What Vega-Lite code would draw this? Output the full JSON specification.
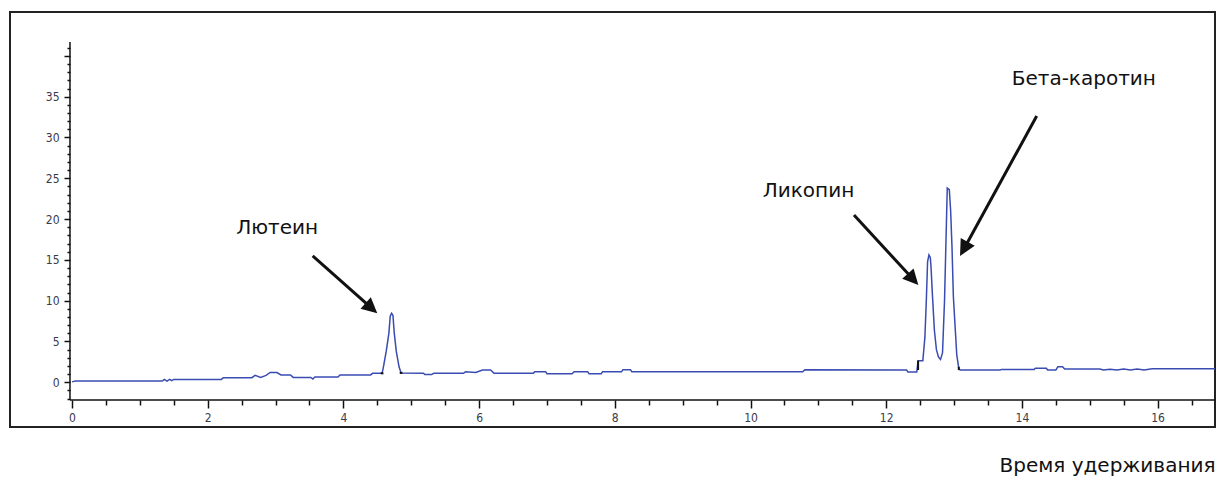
{
  "$schema": "https://vega.github.io/schema/vega-lite/v6.json",
  "width": 1205,
  "height": 415,
  "autosize": {"type": "none"},
  "padding": {"left": 10, "top": 12, "right": 4, "bottom": 53},
  "background": "white",
  "config": {
    "view": {"stroke": "#222222", "strokeWidth": 2},
    "axis": {"grid": false}
  },
  "resolve": {"axis": {"x": "independent", "y": "independent"}},
  "datasets": {
    "trace": [
      {"t": 0, "v": 0.05}, {"t": 0.05, "v": 0.15}, {"t": 1.33, "v": 0.15}, {"t": 1.36, "v": 0.35},
      {"t": 1.40, "v": 0.15}, {"t": 1.44, "v": 0.35}, {"t": 1.47, "v": 0.2}, {"t": 1.5, "v": 0.35},
      {"t": 2.2, "v": 0.35}, {"t": 2.23, "v": 0.57}, {"t": 2.65, "v": 0.57}, {"t": 2.7, "v": 0.85},
      {"t": 2.78, "v": 0.6}, {"t": 2.86, "v": 0.85}, {"t": 2.92, "v": 1.2}, {"t": 3.02, "v": 1.2},
      {"t": 3.08, "v": 0.9}, {"t": 3.22, "v": 0.9}, {"t": 3.26, "v": 0.6}, {"t": 3.52, "v": 0.6},
      {"t": 3.55, "v": 0.4}, {"t": 3.58, "v": 0.65}, {"t": 3.92, "v": 0.65}, {"t": 3.95, "v": 0.9},
      {"t": 4.40, "v": 0.9}, {"t": 4.43, "v": 1.1}, {"t": 4.57, "v": 1.1}, {"t": 4.59, "v": 1.9},
      {"t": 4.63, "v": 3.75}, {"t": 4.67, "v": 6.0}, {"t": 4.69, "v": 8.1}, {"t": 4.71, "v": 8.45},
      {"t": 4.73, "v": 8.2}, {"t": 4.75, "v": 6.0}, {"t": 4.78, "v": 3.75}, {"t": 4.82, "v": 1.9},
      {"t": 4.85, "v": 1.15}, {"t": 5.18, "v": 1.1}, {"t": 5.2, "v": 0.95}, {"t": 5.3, "v": 0.95},
      {"t": 5.33, "v": 1.1}, {"t": 5.77, "v": 1.1}, {"t": 5.8, "v": 1.3}, {"t": 5.95, "v": 1.2},
      {"t": 6.05, "v": 1.5}, {"t": 6.17, "v": 1.5}, {"t": 6.22, "v": 1.1}, {"t": 6.8, "v": 1.1},
      {"t": 6.82, "v": 1.3}, {"t": 6.98, "v": 1.3}, {"t": 7.0, "v": 1.05}, {"t": 7.37, "v": 1.05},
      {"t": 7.4, "v": 1.3}, {"t": 7.6, "v": 1.3}, {"t": 7.62, "v": 1.05}, {"t": 7.8, "v": 1.05},
      {"t": 7.82, "v": 1.3}, {"t": 8.1, "v": 1.3}, {"t": 8.12, "v": 1.55}, {"t": 8.23, "v": 1.55},
      {"t": 8.25, "v": 1.3}, {"t": 10.77, "v": 1.3}, {"t": 10.8, "v": 1.55}, {"t": 12.30, "v": 1.5},
      {"t": 12.32, "v": 1.26}, {"t": 12.45, "v": 1.26}, {"t": 12.47, "v": 2.65}, {"t": 12.54, "v": 2.65},
      {"t": 12.57, "v": 5.5}, {"t": 12.59, "v": 9.7}, {"t": 12.61, "v": 14.8}, {"t": 12.63, "v": 15.6},
      {"t": 12.65, "v": 15.3}, {"t": 12.66, "v": 14.2}, {"t": 12.68, "v": 10.9}, {"t": 12.71, "v": 6.4},
      {"t": 12.74, "v": 4.0}, {"t": 12.77, "v": 3.1}, {"t": 12.80, "v": 2.8}, {"t": 12.83, "v": 3.6},
      {"t": 12.86, "v": 10.1}, {"t": 12.88, "v": 17.0}, {"t": 12.90, "v": 23.8}, {"t": 12.93, "v": 23.6},
      {"t": 12.95, "v": 21.0}, {"t": 12.97, "v": 16.5}, {"t": 12.99, "v": 10.5}, {"t": 13.02, "v": 6.2},
      {"t": 13.04, "v": 3.35}, {"t": 13.07, "v": 1.7}, {"t": 13.09, "v": 1.5}, {"t": 13.68, "v": 1.5},
      {"t": 13.7, "v": 1.58}, {"t": 14.18, "v": 1.58},
      {"t": 14.2, "v": 1.72}, {"t": 14.36, "v": 1.72}, {"t": 14.38, "v": 1.5}, {"t": 14.5, "v": 1.5},
      {"t": 14.53, "v": 1.9}, {"t": 14.6, "v": 1.9}, {"t": 14.63, "v": 1.63}, {"t": 15.15, "v": 1.63},
      {"t": 15.2, "v": 1.5}, {"t": 15.3, "v": 1.6}, {"t": 15.4, "v": 1.5}, {"t": 15.5, "v": 1.62},
      {"t": 15.6, "v": 1.5}, {"t": 15.7, "v": 1.62}, {"t": 15.8, "v": 1.5}, {"t": 15.92, "v": 1.67},
      {"t": 16.846, "v": 1.67}
    ],
    "marks": [
      {"seg": "a", "t": 4.55, "v": 1.1}, {"seg": "a", "t": 4.59, "v": 1.1},
      {"seg": "b", "t": 4.83, "v": 1.15}, {"seg": "b", "t": 4.87, "v": 1.15},
      {"seg": "c", "t": 12.47, "v": 1.5}, {"seg": "c", "t": 12.47, "v": 2.65},
      {"seg": "d", "t": 13.07, "v": 1.5}, {"seg": "d", "t": 13.07, "v": 1.9}
    ],
    "labels": [
      {"label": "Лютеин", "t": 2.42, "v": 18.14},
      {"label": "Ликопин", "t": 10.18, "v": 22.67},
      {"label": "Бета-каротин", "t": 13.85, "v": 36.43}
    ],
    "arrows": [
      {"name": "lutein", "t1": 3.547, "v1": 15.48, "t2": 4.411, "v2": 9.11, "tt": 4.499, "vt": 8.46},
      {"name": "lycopene", "t1": 11.525, "v1": 20.50, "t2": 12.394, "v2": 12.65, "tt": 12.474, "vt": 11.92},
      {"name": "beta", "t1": 14.218, "v1": 32.63, "t2": 13.145, "v2": 16.34, "tt": 13.088, "vt": 15.48}
    ]
  },
  "layer": [
    {
      "data": {"name": "trace"},
      "mark": {"type": "line", "color": "#3a4cb2", "strokeWidth": 1.5, "clip": true},
      "encoding": {
        "x": {
          "field": "t", "type": "quantitative",
          "scale": {"domain": [-0.914, 16.846], "nice": false, "zero": false},
          "axis": {
            "orient": "bottom", "offset": -27, "domain": false, "grid": false,
            "values": [0, 2, 4, 6, 8, 10, 12, 14, 16],
            "tickSize": 8, "tickColor": "#111111", "tickWidth": 1.5,
            "labelOverlap": false, "labelBound": false,
            "labelFont": "Liberation Sans Narrow, Arial Narrow, DejaVu Sans Condensed, sans-serif",
            "labelFontSize": 12, "labelColor": "#3a3a4a", "labelPadding": 4,
            "title": "Время удерживания",
            "titleFont": "DejaVu Sans", "titleFontSize": 20, "titleFontWeight": "normal",
            "titleColor": "#111111", "titleAnchor": "end", "titleAlign": "right",
            "titleBaseline": "alphabetic", "titleX": 1205, "titleY": 71
          }
        },
        "y": {
          "field": "v", "type": "quantitative",
          "scale": {"domain": [-5.48, 45.38], "nice": false, "zero": false},
          "axis": {
            "orient": "left", "offset": -60, "domain": false, "grid": false,
            "values": [0, 5, 10, 15, 20, 25, 30, 35, 40],
            "tickSize": 6, "tickColor": "#111111", "tickWidth": 1.5,
            "labelExpr": "datum.value <= 35 ? datum.label : ''",
            "labelOverlap": false, "labelBound": false,
            "labelFont": "Liberation Sans Narrow, Arial Narrow, DejaVu Sans Condensed, sans-serif",
            "labelFontSize": 12, "labelColor": "#3a3a4a", "labelPadding": 5,
            "title": null
          }
        }
      }
    },
    {
      "data": {"name": "marks"},
      "mark": {"type": "line", "color": "#111111", "strokeWidth": 2},
      "encoding": {
        "x": {
          "field": "t", "type": "quantitative",
          "axis": {
            "orient": "bottom", "offset": -27, "domain": false, "grid": false,
            "values": [0.5, 1, 1.5, 2.5, 3, 3.5, 4.5, 5, 5.5, 6.5, 7, 7.5, 8.5, 9, 9.5, 10.5, 11, 11.5, 12.5, 13, 13.5, 14.5, 15, 15.5, 16.5],
            "tickSize": 5, "tickColor": "#111111", "tickWidth": 1.5,
            "labels": false, "title": null
          }
        },
        "y": {
          "field": "v", "type": "quantitative",
          "axis": {
            "orient": "left", "offset": -60, "domain": false, "grid": false,
            "values": [-2, -1, 1, 2, 3, 4, 6, 7, 8, 9, 11, 12, 13, 14, 16, 17, 18, 19, 21, 22, 23, 24, 26, 27, 28, 29, 31, 32, 33, 34, 36, 37, 38, 39, 41],
            "tickSize": 3, "tickColor": "#111111", "tickWidth": 1.5,
            "labels": false, "title": null
          }
        },
        "detail": {"field": "seg"}
      }
    },
    {
      "data": {"name": "arrows"},
      "mark": {"type": "rule", "color": "#111111", "strokeWidth": 3},
      "encoding": {
        "x": {"field": "t1", "type": "quantitative", "axis": null},
        "y": {"field": "v1", "type": "quantitative", "axis": null},
        "x2": {"field": "t2"},
        "y2": {"field": "v2"}
      }
    },
    {
      "data": {"name": "arrows"},
      "transform": [{"filter": "datum.name === 'lutein'"}],
      "mark": {"type": "point", "shape": "M0,0L-2,-1L-2,1Z", "filled": true, "size": 240, "angle": 41.6, "color": "#111111", "opacity": 1},
      "encoding": {
        "x": {"field": "tt", "type": "quantitative", "axis": null},
        "y": {"field": "vt", "type": "quantitative", "axis": null}
      }
    },
    {
      "data": {"name": "arrows"},
      "transform": [{"filter": "datum.name === 'lycopene'"}],
      "mark": {"type": "point", "shape": "M0,0L-2,-1L-2,1Z", "filled": true, "size": 240, "angle": 47.4, "color": "#111111", "opacity": 1},
      "encoding": {
        "x": {"field": "tt", "type": "quantitative", "axis": null},
        "y": {"field": "vt", "type": "quantitative", "axis": null}
      }
    },
    {
      "data": {"name": "arrows"},
      "transform": [{"filter": "datum.name === 'beta'"}],
      "mark": {"type": "point", "shape": "M0,0L-2,-1L-2,1Z", "filled": true, "size": 256, "angle": 118.8, "color": "#111111", "opacity": 1},
      "encoding": {
        "x": {"field": "tt", "type": "quantitative", "axis": null},
        "y": {"field": "vt", "type": "quantitative", "axis": null}
      }
    },
    {
      "data": {"name": "labels"},
      "mark": {"type": "text", "align": "left", "baseline": "alphabetic", "font": "DejaVu Sans", "fontSize": 20, "color": "#111111"},
      "encoding": {
        "x": {"field": "t", "type": "quantitative", "axis": null},
        "y": {"field": "v", "type": "quantitative", "axis": null},
        "text": {"field": "label"}
      }
    },
    {
      "data": {"values": [{}]},
      "mark": {"type": "rule", "color": "#111111", "strokeWidth": 1.5},
      "encoding": {
        "x": {"datum": -0.03, "type": "quantitative", "axis": null},
        "x2": {"datum": 16.846},
        "y": {"datum": -2.17, "type": "quantitative", "axis": null}
      }
    },
    {
      "data": {"values": [{}]},
      "mark": {"type": "rule", "color": "#111111", "strokeWidth": 1.5},
      "encoding": {
        "x": {"datum": -0.03, "type": "quantitative", "axis": null},
        "y": {"datum": -2.17, "type": "quantitative", "axis": null},
        "y2": {"datum": 41.7}
      }
    }
  ]
}
